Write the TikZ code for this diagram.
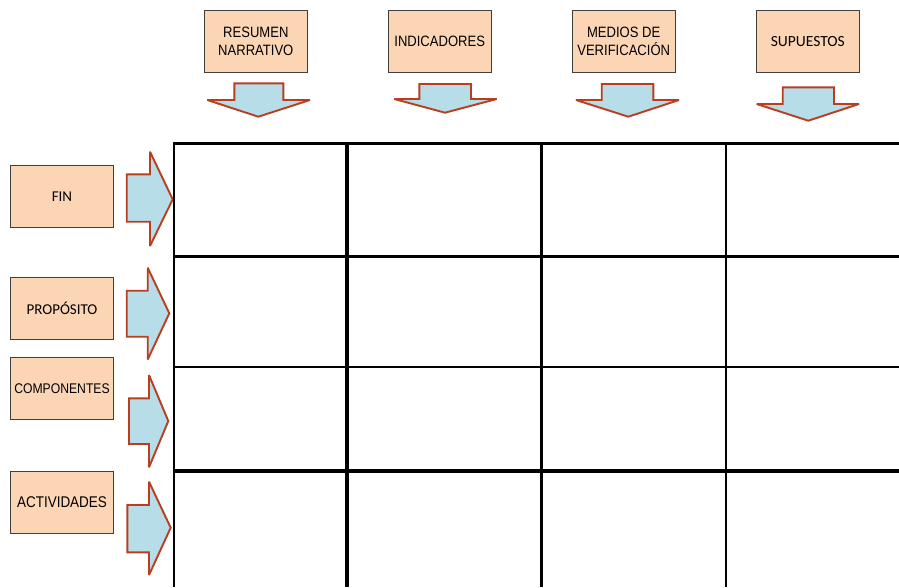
\documentclass[tikz,border=0pt]{standalone}
\usepackage{fontspec}
\usepackage{tikz}

\newfontfamily\narrowfont[FakeStretch=0.87]{Liberation Sans}
\newfontfamily\calibfont{Carlito}

\definecolor{melocoton}{RGB}{252,213,181}
\definecolor{celeste}{RGB}{183,222,232}
\definecolor{ladrillo}{RGB}{185,62,32}

\tikzset{
	caja/.style={shape=rectangle,draw=black!75,line width=0.9pt,fill=melocoton,
		minimum width=103pt,minimum height=62pt,inner sep=0pt,align=center},
	flecha/.style={draw=ladrillo,line width=1.9pt,fill=celeste,line join=miter,miter limit=2},
	rejilla/.style={draw=black,line width=2.4pt},
	gruesa/.style={draw=black,line width=4pt}
}

\begin{document}
\begin{tikzpicture}[x=1pt,y=-1pt]
	
	\useasboundingbox (0,0) rectangle (899,587);
	
	% columnas
	\node[caja,font={\narrowfont\fontsize{15}{18}\selectfont}] (resumen) at (255.8, 41) {RESUMEN\\NARRATIVO};
	\node[caja,font={\narrowfont\fontsize{15}{18}\selectfont}] (indicadores) at (439.7, 41) {INDICADORES};
	\node[caja,font={\narrowfont\fontsize{15}{18}\selectfont}] (medios) at (623.7, 41) {MEDIOS DE\\VERIFICACIÓN};
	\node[caja,font={\calibfont\fontsize{15.5}{18}\selectfont}] (supuestos) at (807.8, 41.5) {SUPUESTOS};
	
	% filas
	\node[caja,font={\calibfont\fontsize{15}{18}\selectfont}] (fin) at (62, 196.3) {FIN};
	\node[caja,font={\calibfont\fontsize{15}{18}\selectfont}] (proposito) at (62, 308.3) {PROPÓSITO};
	\node[caja,font={\narrowfont\fontsize{14}{18}\selectfont}] (componentes) at (62, 388.3) {COMPONENTES};
	\node[caja,font={\narrowfont\fontsize{15.5}{18}\selectfont}] (actividades) at (62, 502.2) {ACTIVIDADES};
	
	% flechas hacia abajo
	\draw[flecha] (234.3,83.3) -- (283.3,83.3) -- (283.3,100) -- (310,100) -- (258.3,116.7) -- (207.3,100) -- (234.3,100) -- cycle;
	\draw[flecha] (419.3,84) -- (471,84) -- (471,99) -- (496.7,99) -- (445,112.7) -- (394.3,99) -- (419.3,99) -- cycle;
	\draw[flecha] (601.7,84) -- (653.3,84) -- (653.3,100) -- (679,100) -- (628.3,116.7) -- (576,100) -- (601.7,100) -- cycle;
	\draw[flecha] (782.7,87.3) -- (834,87.3) -- (834,104) -- (859,104) -- (808.3,120.7) -- (756.7,104) -- (782.7,104) -- cycle;
	
	% flechas hacia la derecha
	\draw[flecha] (126.7,174.3) -- (150,174.3) -- (150,151.7) -- (172.7,199.3) -- (150,246) -- (150,221.7) -- (126.7,221.7) -- cycle;
	\draw[flecha] (126.7,290.7) -- (147.7,290.7) -- (147.7,267.7) -- (169.3,313.3) -- (147.7,359.5) -- (147.7,336.7) -- (126.7,336.7) -- cycle;
	\draw[flecha] (129,398.3) -- (149,398.3) -- (149,375) -- (168.3,421) -- (149,467.3) -- (149,444) -- (129,444) -- cycle;
	\draw[flecha] (127.3,505) -- (149,505) -- (149,481.7) -- (170.7,527.7) -- (149,575) -- (149,552.3) -- (127.3,552.3) -- cycle;
	
	% matriz
	\draw[rejilla,line width=2.7pt] (174,143.3) -- (899,143.3);
	\draw[rejilla,line width=3pt] (174,256.5) -- (899,256.5);
	\draw[rejilla,line width=2.3pt] (174,367) -- (899,367);
	\draw[gruesa] (174,471) -- (899,471);
	\draw[rejilla,line width=2.3pt] (174,142) -- (174,587);
	\draw[gruesa] (347.3,142) -- (347.3,587);
	\draw[rejilla,line width=2.3pt] (541.5,142) -- (541.5,587);
	\draw[rejilla,line width=2.3pt] (725.7,142) -- (725.7,587);
	
\end{tikzpicture}
\end{document}
